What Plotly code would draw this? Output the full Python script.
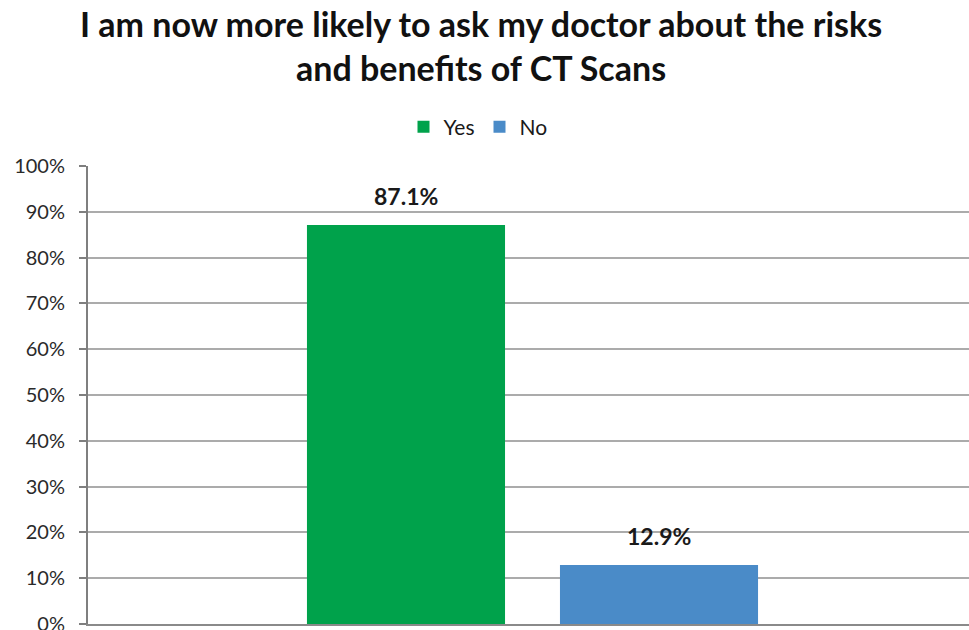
import plotly.graph_objects as go

# ---- data ----
series = ["Yes", "No"]
values = [0.871, 0.129]
category = ["I am now more likely to ask my doctor"]
title_lines = ["I am now more likely to ask my doctor about the risks", "and benefits of CT Scans"]
y_ticks = [i / 10 for i in range(11)]

colors = ["#00A24B", "#4A8BC8"]
bar_width = 0.2228
offsets = [-0.2537, 0.0309]

PLOT_TOP, PLOT_BOTTOM = 166, 624
PLOT_H = PLOT_BOTTOM - PLOT_TOP

fig = go.Figure()
for name, val, col, off in zip(series, values, colors, offsets):
    fig.add_trace(go.Bar(
        name=name, x=category, y=[val],
        marker=dict(color=col, line=dict(width=0)),
        width=bar_width, offset=off,
    ))
    fig.add_annotation(
        x=off + bar_width / 2, y=val, xref="x", yref="y",
        text=f"<b>{val*100:.1f}%</b>", showarrow=False,
        yanchor="bottom", yshift=13,
        font=dict(family="Lato", size=23, color="#1a1a1a"),
    )

fig.add_annotation(
    text="<b>" + "<br>".join(title_lines) + "</b>",
    xref="paper", yref="paper",
    x=(481 - 88) / 881, xanchor="center",
    y=(PLOT_BOTTOM - 1) / PLOT_H, yanchor="top",
    showarrow=False, align="center",
    font=dict(family="Lato", size=34, color="#111111"),
)

fig.update_layout(
    width=969, height=630,
    margin=dict(l=88, r=0, t=PLOT_TOP, b=630 - PLOT_BOTTOM, autoexpand=False),
    paper_bgcolor="white", plot_bgcolor="white",
    font=dict(family="Lato", color="#222222"),
    legend=dict(
        orientation="h", x=(478 - 88) / 881, xanchor="center",
        y=(PLOT_BOTTOM - 127) / PLOT_H, yanchor="middle",
        font=dict(family="Lato", size=21, color="#1a1a1a"),
        itemwidth=30, traceorder="normal",
    ),
    barmode="group",
    showlegend=True,
)
fig.update_xaxes(
    range=[-0.5, 0.491], showticklabels=False, showgrid=False,
    showline=True, linecolor="#8a8a8a", linewidth=2, ticks="",
    zeroline=False, fixedrange=True, automargin=False,
)
fig.update_yaxes(
    range=[0, 1], tickvals=y_ticks, tickformat=".0%",
    showgrid=True, gridcolor="#ababab", gridwidth=1.6,
    showline=True, linecolor="#7f7f7f", linewidth=2,
    ticks="outside", ticklen=7, tickcolor="#7f7f7f", tickwidth=2,
    ticklabelstandoff=10, ticklabeloverflow="allow",
    tickfont=dict(family="Lato", size=20, color="#2a2a2a"),
    zeroline=False, fixedrange=True, automargin=False,
)

fig.write_html("out.html")
